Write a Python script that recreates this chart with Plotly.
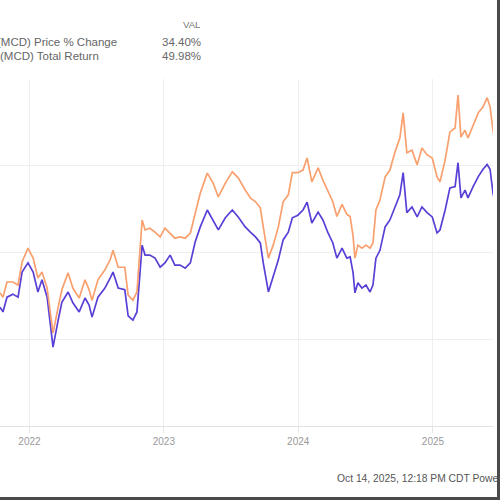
import plotly.graph_objects as go

# ---- data ----
dates = [
    "2021-10-13", "2021-10-21", "2021-11-01", "2021-11-17", "2021-12-01", "2021-12-12", "2021-12-28",
    "2022-01-11", "2022-01-24", "2022-02-04", "2022-02-18", "2022-03-06", "2022-03-20", "2022-03-30",
    "2022-04-16", "2022-04-29", "2022-05-16", "2022-06-01", "2022-06-12", "2022-06-20", "2022-07-06",
    "2022-07-25", "2022-08-08", "2022-08-16", "2022-08-30", "2022-09-17", "2022-09-26", "2022-10-09",
    "2022-10-20", "2022-11-03", "2022-11-11", "2022-11-24", "2022-12-08", "2022-12-22", "2023-01-04",
    "2023-01-18", "2023-01-31", "2023-02-14", "2023-02-28", "2023-03-14", "2023-03-27", "2023-04-10",
    "2023-04-29", "2023-05-15", "2023-05-29", "2023-06-17", "2023-07-06", "2023-07-22", "2023-08-10",
    "2023-08-24", "2023-09-07", "2023-09-20", "2023-09-28", "2023-10-12", "2023-10-25", "2023-11-08",
    "2023-11-21", "2023-12-05", "2023-12-16", "2023-12-31", "2024-01-14", "2024-01-25", "2024-02-07",
    "2024-02-24", "2024-03-08", "2024-03-22", "2024-04-04", "2024-04-15", "2024-04-29", "2024-05-12",
    "2024-05-21", "2024-05-29", "2024-06-03", "2024-06-11", "2024-06-22", "2024-07-03", "2024-07-14",
    "2024-07-22", "2024-07-30", "2024-08-10", "2024-08-24", "2024-09-06", "2024-09-20", "2024-10-03",
    "2024-10-12", "2024-10-22", "2024-11-05", "2024-11-19", "2024-12-02", "2024-12-16", "2024-12-30",
    "2025-01-12", "2025-01-20", "2025-02-03", "2025-02-16", "2025-03-02", "2025-03-10", "2025-03-18",
    "2025-03-29", "2025-04-06", "2025-04-20", "2025-05-04", "2025-05-17", "2025-05-28", "2025-06-05",
    "2025-06-13", "2025-06-24", "2025-07-02",
]

price_change = [
    7.4, 6.3, 9.7, 10.4, 9.7, 15.5, 17.6,
    15.5, 10.9, 13.7, 9.7, -1.8, 4.4, 8.5,
    10.9, 8.4, 6.3, 9.5, 7.9, 5.1, 9.7,
    11.8, 14.1, 15.5, 11.8, 11.4, 5.4, 4.4,
    6.3, 21.7, 19.4, 19.4, 18.7, 16.6, 17.6,
    19.4, 17.1, 17.1, 16.4, 17.6, 22.4, 25.9,
    29.8, 27.5, 25.2, 28.0, 29.8, 28.2, 25.9,
    24.7, 23.6, 22.2, 17.6, 10.9, 14.4, 18.3,
    22.9, 24.7, 28.0, 28.6, 29.8, 31.6, 26.8,
    29.3, 27.5, 24.5, 22.2, 18.7, 21.0, 18.7,
    19.0, 15.3, 10.7, 13.0, 11.8, 12.5, 10.9,
    12.5, 18.7, 20.5, 25.9, 27.5, 30.5, 33.3,
    38.4, 29.2, 30.5, 28.2, 30.5, 29.2, 28.2,
    24.5, 25.2, 29.8, 34.9, 35.2, 40.7, 32.6,
    34.4, 32.6, 35.2, 37.5, 39.2, 40.3, 39.2,
    33.7, 29.2, 28.6,
]

total_return = [
    10.7, 9.7, 13.2, 13.2, 12.5, 17.8, 21.0,
    18.7, 14.1, 15.5, 11.8, 1.4, 7.4, 11.4,
    15.3, 11.8, 9.5, 13.7, 11.4, 9.0, 13.7,
    16.0, 18.3, 20.5, 16.6, 16.6, 10.2, 9.0,
    10.9, 27.5, 25.2, 25.6, 24.7, 23.6, 25.6,
    24.5, 23.3, 23.6, 23.3, 24.5, 29.3, 33.7,
    38.3, 36.0, 32.8, 36.0, 38.6, 37.2, 34.4,
    32.6, 31.7, 30.3, 25.9, 18.7, 21.7, 25.9,
    31.7, 33.3, 38.4, 38.4, 39.0, 41.8, 36.3,
    39.5, 36.7, 33.9, 31.7, 28.3, 31.1, 28.8,
    28.3, 23.7, 18.7, 21.7, 21.0, 21.7, 21.0,
    22.2, 29.8, 32.1, 37.4, 39.0, 43.2, 46.4,
    52.2, 43.0, 43.6, 40.2, 44.1, 42.5, 41.8,
    37.4, 36.3, 41.3, 47.8, 48.7, 56.3, 46.6,
    48.2, 46.4, 49.4, 52.2, 53.6, 55.7, 53.6,
    48.2, 43.2, 43.2,
]

series_names = ["(MCD) Price % Change", "(MCD) Total Return"]
series_vals = ["34.40%", "49.98%"]
val_header = "VAL"
footer = "Oct 14, 2025, 12:18 PM CDT Powered by YCHARTS"

PURPLE = "#5a3fd6"
ORANGE = "#f9a06e"
FONT = "Liberation Sans, Arial, sans-serif"

# plot area in pixels
L, R, T, B = 0, 493, 79, 426
W, H = R - L, B - T


def px(x):
    return (x - L) / W


def py(y):
    return (B - y) / H


fig = go.Figure()
fig.add_trace(go.Scatter(x=dates, y=price_change, mode="lines", name=series_names[0],
                         line=dict(color=PURPLE, width=1.7)))
fig.add_trace(go.Scatter(x=dates, y=total_return, mode="lines", name=series_names[1],
                         line=dict(color=ORANGE, width=1.7)))

fig.update_layout(
    width=500, height=500,
    margin=dict(l=L, r=500 - R, t=T, b=500 - B, pad=0),
    paper_bgcolor="white", plot_bgcolor="white",
    showlegend=False,
    font=dict(family=FONT, color="#555"),
    xaxis=dict(
        type="date",
        range=["2021-10-13", "2025-06-13"],
        tick0="2022-01-01", dtick="M12", tickformat="%Y",
        showgrid=True, gridcolor="#efefef", gridwidth=1,
        ticks="outside", ticklen=6, tickcolor="#e6e6e6",
        showline=True, linecolor="#e2e2e2", linewidth=1,
        tickfont=dict(size=10, color="#999", family=FONT),
        zeroline=False,
    ),
    yaxis=dict(
        range=[-20, 60], dtick=20, tick0=0,
        showgrid=True, gridcolor="#efefef", gridwidth=1,
        showticklabels=False, zeroline=False, showline=False,
    ),
)

ann = []
ann.append(dict(x=px(191), y=py(24), text=val_header, showarrow=False, xref="paper", yref="paper",
                xanchor="center", yanchor="middle", font=dict(size=9.5, color="#777", family=FONT)))
for i, (nm, v) in enumerate(zip(series_names, series_vals)):
    yy = 42 + i * 14
    ann.append(dict(x=px(119 if i == 0 else 101), y=py(yy), text=nm, showarrow=False, xref="paper",
                    yref="paper", xanchor="right", yanchor="middle",
                    font=dict(size=11.5, color="#666", family=FONT)))
    ann.append(dict(x=px(203), y=py(yy), text=v, showarrow=False, xref="paper", yref="paper",
                    xanchor="right", yanchor="middle", font=dict(size=11.5, color="#666", family=FONT)))
ann.append(dict(x=px(335), y=py(478), text=footer, showarrow=False, xref="paper", yref="paper",
                xanchor="left", yanchor="middle", font=dict(size=10.3, color="#555", family=FONT)))
fig.update_layout(annotations=ann)

# screenshot frame lines (right and bottom edges)
fig.add_shape(type="line", xref="paper", yref="paper", x0=px(498.5), x1=px(498.5), y0=py(500), y1=py(0),
              line=dict(color="#4a4a4a", width=3), layer="above")
fig.add_shape(type="line", xref="paper", yref="paper", x0=px(0), x1=px(500), y0=py(498.5), y1=py(498.5),
              line=dict(color="#4a4a4a", width=3), layer="above")

fig.write_html("out.html", config={"displayModeBar": False},
               post_script="document.body.style.margin='0';document.body.style.overflow='hidden';")
